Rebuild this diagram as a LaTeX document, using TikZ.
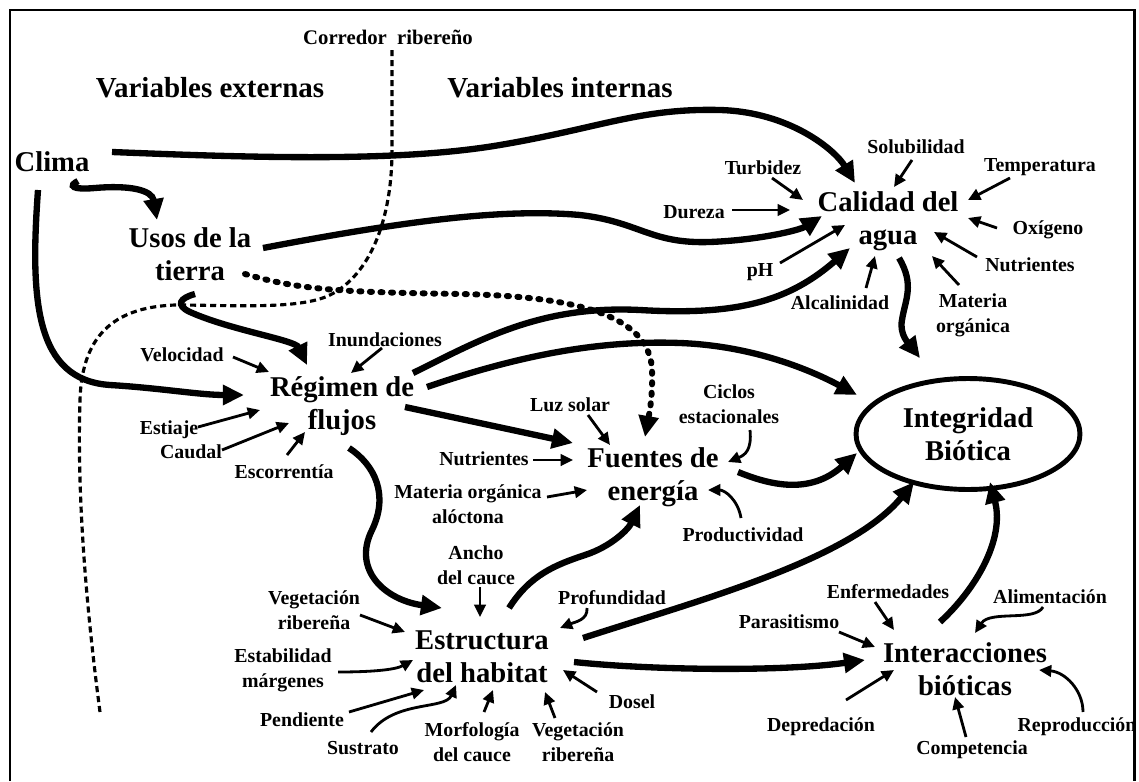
\documentclass[tikz,border=0pt]{standalone}
\usepackage{fontspec}
\setmainfont{Liberation Serif}
\usetikzlibrary{arrows.meta,shapes.geometric}

\begin{document}
\begin{tikzpicture}[x=0.02cm,y=-0.02cm,
    mainnode/.style={align=center,inner sep=1pt,font=\fontsize{16.3}{18.7}\selectfont\bfseries},
    factor/.style={align=center,inner sep=1pt,font=\fontsize{11.3}{14.2}\selectfont\bfseries},
    heading/.style={inner sep=1pt,font=\fontsize{16.5}{18}\selectfont\bfseries},
    bigarrow/.style={line width=3.6pt,-{Triangle[length=12pt,width=11pt]}},
    smallarrow/.style={line width=1.6pt,-{Triangle[length=7pt,width=6.5pt]}},
    corridor/.style={line width=1.8pt,dash pattern=on 3.5pt off 2.2pt},
    dotflow/.style={line width=3.4pt,line cap=round,dash pattern=on 1.2pt off 4.8pt,-{Triangle[length=12pt,width=11pt]}}]

  \useasboundingbox (0,0) rectangle (1139,781);%
  \draw[line width=1.7pt] (10,781) -- (10,10) -- (1134,10) -- (1134,781);%

  \node[factor,font=\fontsize{11.8}{14.2}\selectfont\bfseries] (corredor) at (388,37) {Corredor~ ribereño};%
  \node[heading] (varext) at (210,88) {Variables externas};%
  \node[heading] (varint) at (560,88) {Variables internas};%

  \node[mainnode] (clima) at (52,162) {Clima};%
  \node[mainnode] (usos) at (190,254) {Usos de la\\tierra};%
  \node[mainnode] (calidad) at (888,221) {Calidad del\\agua};%
  \node[mainnode] (regimen) at (342,406) {Régimen de\\flujos};%
  \node[mainnode] (fuentes) at (653,477) {Fuentes de\\energía};%
  \node[mainnode,ellipse,draw,line width=2.8pt,minimum width=4.48cm,minimum height=2.22cm] (integridad) at (968,434) {Integridad\\Biótica};%
  \node[mainnode] (estructura) at (482,657) {Estructura\\del habitat};%
  \node[mainnode] (interacciones) at (965,669) {Interacciones\\bióticas};%

  \node[factor] (solub) at (916,147) {Solubilidad};%
  \node[factor] (turbidez) at (763,168) {Turbidez};%
  \node[factor] (temp) at (1040,167) {Temperatura};%
  \node[factor] (dureza) at (694,212) {Dureza};%
  \node[factor] (oxigeno) at (1048,230) {Oxígeno};%
  \node[factor] (ph) at (760,272) {pH};%
  \node[factor] (nutriA) at (1030,265) {Nutrientes};%
  \node[factor] (alcal) at (840,303) {Alcalinidad};%
  \node[factor] (materiaA) at (973,315) {Materia\\orgánica};%

  \node[factor] (inund) at (385,340) {Inundaciones};%
  \node[factor] (veloc) at (182,355) {Velocidad};%
  \node[factor] (estiaje) at (169,430) {Estiaje};%
  \node[factor] (caudal) at (191,452) {Caudal};%
  \node[factor] (escorr) at (284,472) {Escorrentía};%

  \node[factor] (luz) at (570,405) {Luz solar};%
  \node[factor] (ciclos) at (729,404) {Ciclos\\estacionales};%
  \node[factor] (nutriF) at (484,459) {Nutrientes};%
  \node[factor] (materiaF) at (468,504) {Materia orgánica\\alóctona};%
  \node[factor] (product) at (743,535) {Productividad};%

  \node[factor] (ancho) at (476,565) {Ancho\\del cauce};%
  \node[factor] (vegA) at (314,610) {Vegetación\\ribereña};%
  \node[factor] (profund) at (612,598) {Profundidad};%
  \node[factor] (estab) at (283,670) {Estabilidad\\márgenes};%
  \node[factor] (pend) at (302,720) {Pendiente};%
  \node[factor] (sustr) at (363,748) {Sustrato};%
  \node[factor] (morfo) at (472,742) {Morfología\\del cauce};%
  \node[factor] (vegB) at (578,742) {Vegetación\\ribereña};%
  \node[factor] (dosel) at (632,702) {Dosel};%

  \node[factor] (enferm) at (888,592) {Enfermedades};%
  \node[factor] (alim) at (1050,597) {Alimentación};%
  \node[factor] (parasit) at (789,622) {Parasitismo};%
  \node[factor] (depred) at (821,727) {Depredación};%
  \node[factor] (compet) at (972,750) {Competencia};%
  \node[factor] (reprod) at (1077,727) {Reproducción};%

  \coordinate (corrEnd) at (100,712);%
  \draw[corridor] ([shift={(4,13)}]corredor.center) -- (392,150) .. controls (392,220) and (370,275) .. (330,295) .. controls (300,310) and (230,305) .. (175,305) .. controls (120,307) and (82,330) .. (80,400) .. controls (78,460) and (80,560) .. (corrEnd);%

  \draw[bigarrow] ([shift={(60,-10)}]clima.center) .. controls (260,158) and (400,162) .. (500,145) .. controls (600,128) and (640,108) .. (720,110) .. controls (790,112) and (835,150) .. ([shift={(-33,-38)}]calidad.center);%
  \draw[bigarrow] ([shift={(26,19)}]clima.center) .. controls (68,186) and (72,190) .. (95,188) .. controls (130,185) and (152,190) .. ([shift={(-33,-34)}]usos.center);%
  \draw[bigarrow] ([shift={(-14,28)}]clima.center) .. controls (30,300) and (35,380) .. (110,385) .. controls (160,388) and (200,395) .. ([shift={(-98,-11)}]regimen.center);%
  \draw[bigarrow] ([shift={(73,-6)}]usos.center) .. controls (400,222) and (500,208) .. (580,215) .. controls (640,222) and (650,244) .. (710,242) .. controls (760,240) and (800,230) .. ([shift={(-66,-5)}]calidad.center);%
  \draw[bigarrow] ([shift={(5,40)}]usos.center) .. controls (180,298) and (175,305) .. (190,312) .. controls (230,330) and (295,340) .. ([shift={(-35,-41)}]regimen.center);%
  \draw[dotflow] ([shift={(55,20)}]usos.center) .. controls (300,290) and (340,292) .. (460,294) .. controls (560,296) and (650,310) .. (652,370) .. controls (653,400) and (648,420) .. ([shift={(-8,-40)}]fuentes.center);%
  \draw[bigarrow] ([shift={(71,-33)}]regimen.center) .. controls (480,340) and (540,305) .. (640,310) .. controls (740,316) and (790,300) .. ([shift={(-38,27)}]calidad.center);%
  \draw[bigarrow] ([shift={(85,-19)}]regimen.center) .. controls (520,355) and (600,340) .. (680,343) .. controls (760,346) and (820,375) .. ([shift={(-111,-39)}]integridad.center);%
  \draw[bigarrow] ([shift={(63,1)}]regimen.center) -- ([shift={(-80,-34)}]fuentes.center);%
  \draw[bigarrow] ([shift={(7,42)}]regimen.center) .. controls (375,465) and (389,495) .. (372,530) .. controls (352,570) and (385,600) .. ([shift={(-40,-49)}]estructura.center);%
  \draw[bigarrow] ([shift={(11,37)}]calidad.center) .. controls (915,285) and (905,300) .. (902,320) .. controls (899,335) and (910,345) .. ([shift={(-48,-76)}]integridad.center);%
  \draw[bigarrow] ([shift={(85,-5)}]fuentes.center) .. controls (770,485) and (810,495) .. ([shift={(-111,19)}]integridad.center);%
  \draw[bigarrow] ([shift={(27,-49)}]estructura.center) .. controls (530,575) and (555,565) .. (585,555) .. controls (610,547) and (628,530) .. ([shift={(-13,28)}]fuentes.center);%
  \draw[bigarrow] ([shift={(101,-19)}]estructura.center) .. controls (700,600) and (850,560) .. ([shift={(-54,48)}]integridad.center);%
  \draw[bigarrow] ([shift={(92,5)}]estructura.center) .. controls (650,670) and (780,672) .. ([shift={(-100,-9)}]interacciones.center);%
  \draw[bigarrow] ([shift={(-25,-47)}]interacciones.center) .. controls (975,590) and (1005,540) .. ([shift={(22,48)}]integridad.center);%

  \draw[smallarrow] ([shift={(-4,13)}]solub.center) -- ([shift={(6,-34)}]calidad.center);%
  \draw[smallarrow] ([shift={(9,10)}]turbidez.center) -- ([shift={(-85,-21)}]calidad.center);%
  \draw[smallarrow] ([shift={(-30,11)}]temp.center) -- ([shift={(80,-21)}]calidad.center);%
  \draw[smallarrow] ([shift={(38,-2)}]dureza.center) -- ([shift={(-98,-11)}]calidad.center);%
  \draw[smallarrow] ([shift={(-51,-2)}]oxigeno.center) -- ([shift={(80,-3)}]calidad.center);%
  \draw[smallarrow] ([shift={(-53,-8)}]nutriA.center) -- ([shift={(46,11)}]calidad.center);%
  \draw[smallarrow] ([shift={(-14,-30)}]materiaA.center) -- ([shift={(44,35)}]calidad.center);%
  \draw[smallarrow] ([shift={(26,-15)}]alcal.center) -- ([shift={(-13,35)}]calidad.center);%
  \draw[smallarrow] ([shift={(20,-9)}]ph.center) -- ([shift={(-43,4)}]calidad.center);%

  \draw[smallarrow] ([shift={(-3,8)}]inund.center) -- ([shift={(9,-33)}]regimen.center);%
  \draw[smallarrow] ([shift={(51,2)}]veloc.center) -- ([shift={(-73,-34)}]regimen.center);%
  \draw[smallarrow] ([shift={(29,-3)}]estiaje.center) -- ([shift={(-82,4)}]regimen.center);%
  \draw[smallarrow] ([shift={(31,-2)}]caudal.center) -- ([shift={(-53,17)}]regimen.center);%
  \draw[smallarrow] ([shift={(3,-17)}]escorr.center) -- ([shift={(-37,26)}]regimen.center);%

  \draw[smallarrow] ([shift={(18,10)}]luz.center) -- ([shift={(-43,-32)}]fuentes.center);%
  \draw[smallarrow] ([shift={(21,26)}]ciclos.center) .. controls (752,450) and (745,455) .. ([shift={(75,-15)}]fuentes.center);%
  \draw[smallarrow] ([shift={(49,1)}]nutriF.center) -- ([shift={(-80,-17)}]fuentes.center);%
  \draw[smallarrow] ([shift={(79,-7)}]materiaF.center) -- ([shift={(-66,13)}]fuentes.center);%
  \draw[smallarrow] ([shift={(-2,-17)}]product.center) .. controls (738,500) and (725,490) .. ([shift={(55,13)}]fuentes.center);%

  \draw[smallarrow] ([shift={(4,22)}]ancho.center) -- ([shift={(-2,-40)}]estructura.center);%
  \draw[smallarrow] ([shift={(46,5)}]vegA.center) -- ([shift={(-77,-25)}]estructura.center);%
  \draw[smallarrow] ([shift={(-25,10)}]profund.center) .. controls (588,620) and (575,622) .. ([shift={(78,-29)}]estructura.center);%
  \draw[smallarrow] ([shift={(55,2)}]estab.center) .. controls (370,672) and (395,670) .. ([shift={(-69,3)}]estructura.center);%
  \draw[smallarrow] ([shift={(47,-8)}]pend.center) -- ([shift={(-58,33)}]estructura.center);%
  \draw[smallarrow] ([shift={(8,-16)}]sustr.center) .. controls (395,700) and (445,710) .. ([shift={(-26,28)}]estructura.center);%
  \draw[smallarrow] ([shift={(12,-30)}]morfo.center) -- ([shift={(11,33)}]estructura.center);%
  \draw[smallarrow] ([shift={(-23,-24)}]vegB.center) -- ([shift={(63,35)}]estructura.center);%
  \draw[smallarrow] ([shift={(-35,-10)}]dosel.center) -- ([shift={(81,13)}]estructura.center);%

  \draw[smallarrow] ([shift={(-13,10)}]enferm.center) -- ([shift={(-71,-39)}]interacciones.center);%
  \draw[smallarrow] ([shift={(-7,10)}]alim.center) .. controls (1035,622) and (990,610) .. ([shift={(10,-36)}]interacciones.center);%
  \draw[smallarrow] ([shift={(50,10)}]parasit.center) -- ([shift={(-90,-22)}]interacciones.center);%
  \draw[smallarrow] ([shift={(25,-27)}]depred.center) -- ([shift={(-71,1)}]interacciones.center);%
  \draw[smallarrow] ([shift={(-6,-13)}]compet.center) -- ([shift={(-10,28)}]interacciones.center);%
  \draw[smallarrow] ([shift={(6,-15)}]reprod.center) .. controls (1083,690) and (1065,672) .. ([shift={(74,1)}]interacciones.center);%
\end{tikzpicture}
\end{document}
